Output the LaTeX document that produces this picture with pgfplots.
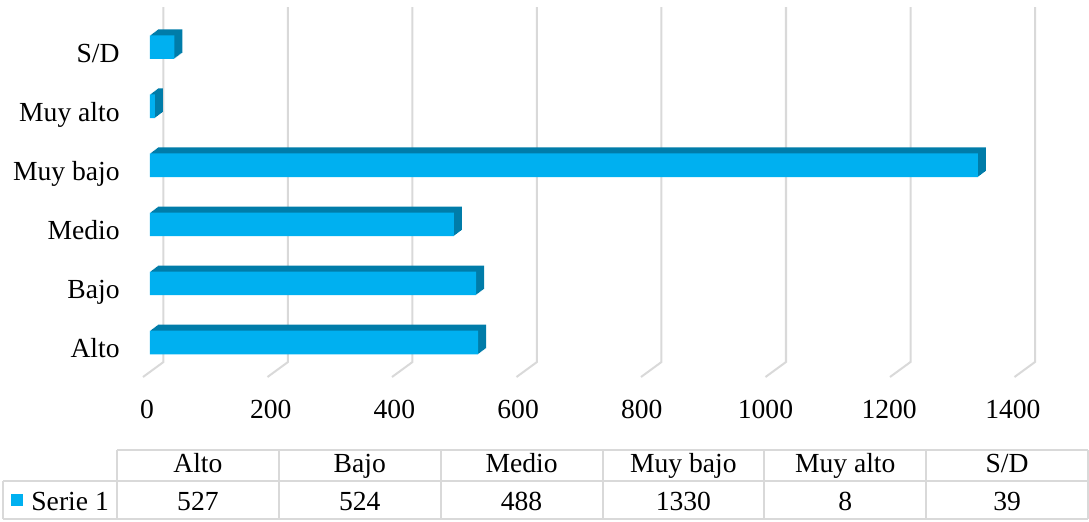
\documentclass[border=0pt]{standalone}
\usepackage{fontspec}
\setmainfont{Liberation Serif}
\usepackage{pgfplots}
\usepackage{pgfplotstable}
\pgfplotsset{compat=1.18}

\definecolor{barfront}{HTML}{00B0F0}
\definecolor{bardepth}{HTML}{007CA9}
\definecolor{gridgray}{HTML}{D9D9D9}

\pgfplotstableread{
idx label value
0 Alto 527
1 Bajo 524
2 Medio 488
3 {Muy bajo} 1330
4 {Muy alto} 8
5 S/D 39
}\datatable

\begin{document}
\begin{tikzpicture}[font=\fontsize{13.8}{16}\selectfont]
\useasboundingbox (0,0) rectangle (544.5pt,260.5pt);
\begin{axis}[
  at={(75pt,74.5pt)}, anchor=south west,
  scale only axis, width=435.75pt, height=177.5pt,
  xmin=0, xmax=1400, ymin=-0.5, ymax=5.51,
  clip=false,
  axis line style={draw=none}, tick style={draw=none},
  xtick={0,200,...,1400},
  ytick={0,...,5},
  yticklabels from table={\datatable}{label},
  xticklabel style={anchor=base, yshift=-23pt, xshift=-1.5pt-0.4pt*\ticknum},
  yticklabel style={anchor=base east, inner sep=0pt, xshift=-15pt, yshift=-7.5pt},
  /pgf/number format/set thousands separator={},
  /pgf/number format/assume math mode=true,
]
% back wall and floor grid
\pgfplotsinvokeforeach{0,200,...,1400}{
  \draw[gridgray, line width=1pt]
    ([shift={(-3.5pt,-2.5pt)}]axis cs:#1,-0.5) --
    ([shift={(6.75pt,5pt)}]axis cs:#1,-0.5) --
    ([shift={(6.75pt,5pt)}]axis cs:#1,5.51);
}
% depth of the bars
\pgfplotsinvokeforeach{1,...,8}{
  \addplot[xbar, bar shift=0pt, bar width=0.4, fill=bardepth, draw=none,
    xshift=#1*0.5pt, yshift=#1*0.375pt] table[x=value, y=idx] {\datatable};
}
% front faces
\addplot[xbar, bar shift=0pt, bar width=0.4, fill=barfront, draw=none]
  table[x=value, y=idx] {\datatable};
\end{axis}

% data table
\begin{scope}[x=0.5pt, y=-0.5pt, yshift=260.5pt]
\draw[gridgray, line width=1pt]
  (117,450) -- (1088,450) (3,481) -- (1088,481) (3,519) -- (1088,519)
  (3,481) -- (3,519);
\foreach \xx in {117,278.8,440.7,602.5,764.3,926.2,1088}
  \draw[gridgray, line width=1pt] (\xx,450) -- (\xx,519);
\fill[barfront] (11,494) rectangle (23,506);
\node[anchor=base west, inner sep=0pt] at (31,510) {Serie 1};
\foreach \i in {0,...,5} {
  \pgfplotstablegetelem{\i}{label}\of\datatable
  \node[anchor=base, inner sep=0pt] at ({117+161.83*(\i+0.5)},472) {\pgfplotsretval};
  \pgfplotstablegetelem{\i}{value}\of\datatable
  \node[anchor=base, inner sep=0pt] at ({117+161.83*(\i+0.5)},510) {\pgfplotsretval};
}
\end{scope}
\end{tikzpicture}
\end{document}
